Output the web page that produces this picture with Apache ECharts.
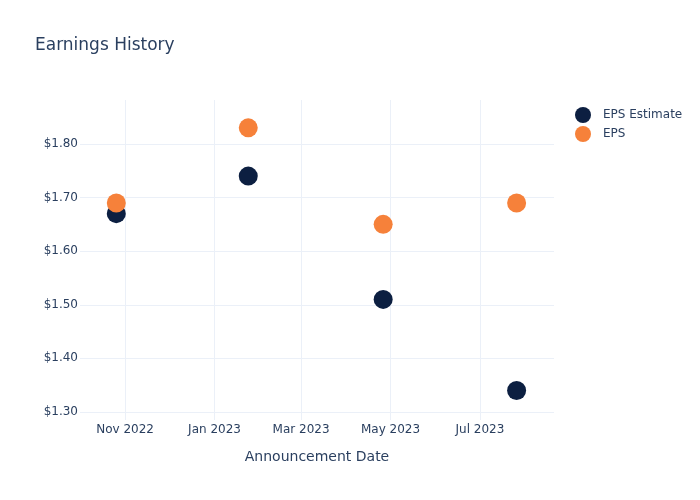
<!DOCTYPE html>
<html><head><meta charset="utf-8">
<script src="https://cdn.jsdelivr.net/npm/echarts@6/dist/echarts.min.js"></script>
<style>html,body{margin:0;padding:0;background:#fff}#c{width:700px;height:500px}</style>
</head><body><div id="c"></div>
<script>
const dates = ['2022-10-26', '2023-01-24', '2023-04-26', '2023-07-26'];
const epsEstimate = [1.67, 1.74, 1.51, 1.34];
const eps = [1.69, 1.83, 1.65, 1.69];
const xTicks = ['2022-11-01', '2023-01-01', '2023-03-01', '2023-05-01', '2023-07-01'];
const yTicks = [1.3, 1.4, 1.5, 1.6, 1.7, 1.8];
const monthNames = ['Jan','Feb','Mar','Apr','May','Jun','Jul','Aug','Sep','Oct','Nov','Dec'];
const font = 'DejaVu Sans';
const txt = '#2a3f5f';
const grid = '#ebf0f8';
const ts = d => Date.parse(d + 'T00:00:00Z');
const xTickTs = xTicks.map(ts);
const chart = echarts.init(document.getElementById('c'));
chart.setOption({
  animation: false,
  textStyle: {fontFamily: font},
  title: {text: 'Earnings History', left: 30, top: 32, textStyle: {fontFamily: font, fontSize: 17, fontWeight: 'normal', color: txt}},
  legend: {
    orient: 'vertical', left: 570, top: 102, itemWidth: 16, itemHeight: 16, itemGap: 3,
    icon: 'circle',
    textStyle: {fontFamily: font, fontSize: 12, color: txt, padding: [0, 0, 0, 7]}
  },
  grid: {left: 80, right: 146, top: 100, bottom: 80},
  xAxis: {
    type: 'value',
    min: Date.parse('2022-10-01T06:00:00Z'),
    max: Date.parse('2023-08-20T12:00:00Z'),
    name: 'Announcement Date', nameLocation: 'middle', nameGap: 30,
    nameTextStyle: {fontFamily: font, fontSize: 14, color: txt},
    axisLine: {show: false},
    axisTick: {show: false, customValues: xTickTs},
    axisLabel: {customValues: xTickTs, fontFamily: font, fontSize: 12, color: txt, margin: 4,
      formatter: v => { const d = new Date(v); return monthNames[d.getUTCMonth()] + ' ' + d.getUTCFullYear(); }},
    splitLine: {show: true, lineStyle: {color: grid, width: 1}}
  },
  yAxis: {
    type: 'value', min: 1.285, max: 1.882,
    axisLine: {show: false},
    axisTick: {show: false, customValues: yTicks},
    axisLabel: {customValues: yTicks, fontFamily: font, fontSize: 12, color: txt, margin: 2,
      formatter: v => '$' + v.toFixed(2)},
    splitLine: {show: true, lineStyle: {color: grid, width: 1}}
  },
  series: [
    {name: 'EPS Estimate', type: 'scatter', symbolSize: 19, itemStyle: {color: '#0c1f41', opacity: 1},
      data: dates.map((d, i) => [ts(d), epsEstimate[i]])},
    {name: 'EPS', type: 'scatter', symbolSize: 19, itemStyle: {color: '#f6813a', opacity: 1},
      data: dates.map((d, i) => [ts(d), eps[i]])}
  ]
});
</script></body></html>
